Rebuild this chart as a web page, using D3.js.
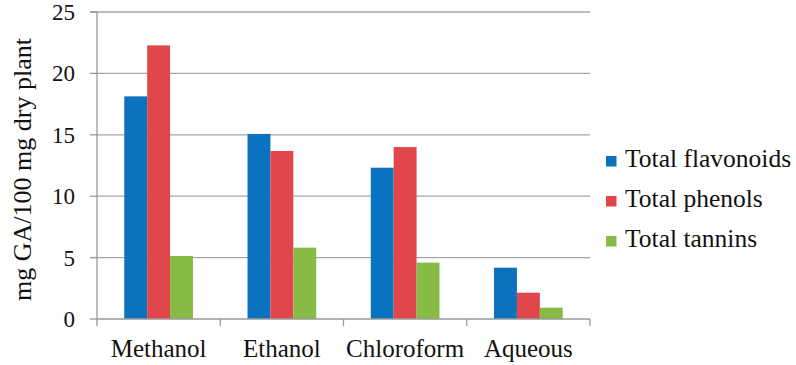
<!DOCTYPE html>
<html><head><meta charset="utf-8">
<script src="https://cdn.jsdelivr.net/npm/d3@7"></script>
<style>body{margin:0;background:#fff}#wrap{position:relative;width:796px;height:365px}svg{display:block;position:absolute;left:0;top:0}
.lg{position:absolute;font-family:"Liberation Serif";font-size:25.5px;color:#111;line-height:1;white-space:nowrap}</style>
</head><body>
<div id="wrap"><svg id="c" width="796" height="365"></svg></div>
<script>
const categories = ["Methanol", "Ethanol", "Chloroform", "Aqueous"];
const seriesNames = ["Total flavonoids", "Total phenols", "Total tannins"];
const flavonoids = [18.13, 15.07, 12.32, 4.18];
const phenols = [22.28, 13.68, 14.0, 2.14];
const tannins = [5.13, 5.81, 4.59, 0.92];
const yTicks = [0, 5, 10, 15, 20, 25];
const colors = ["#0a72be", "#e0464a", "#88bb46"];
const seriesValues = [flavonoids, phenols, tannins];

const svg = d3.select("#c");
const L = 97, R = 590, T = 12, B = 319;

const x = d3.scaleBand().domain(categories).range([L, R]).paddingInner(0).paddingOuter(0);
const sub = d3.scaleBand().domain(seriesNames).range([0, x.bandwidth()]).paddingInner(0).paddingOuter(1.19);
const y = d3.scaleLinear().domain([0, 25]).range([B, T]);

svg.append("g").selectAll("line").data(yTicks.filter(d => d > 0)).join("line")
  .attr("x1", L).attr("x2", R).attr("y1", d => y(d)).attr("y2", d => y(d))
  .attr("stroke", "#a6a6a6").attr("stroke-width", 1.3);

categories.forEach((c, i) => {
  svg.append("g").selectAll("rect").data(seriesNames).join("rect")
    .attr("x", s => x(c) + sub(s))
    .attr("width", sub.bandwidth())
    .attr("y", (s, j) => y(seriesValues[j][i]))
    .attr("height", (s, j) => B - y(seriesValues[j][i]))
    .attr("fill", (s, j) => colors[j]);
});

// y axis
svg.append("path").attr("d", `M${L - 7},${T}H${L}V${B}`).attr("fill", "none").attr("stroke", "#9a9a9a").attr("stroke-width", 1.3);
yTicks.forEach(t => {
  svg.append("line").attr("x1", L - 7).attr("x2", L).attr("y1", y(t)).attr("y2", y(t)).attr("stroke", "#9a9a9a").attr("stroke-width", 1.3);
  svg.append("text").attr("x", 75).attr("y", y(t) + 8).attr("text-anchor", "end")
    .attr("font-family", "Tinos").attr("font-size", 23).attr("fill", "#111").text(d3.format("d")(t));
});

// x axis
svg.append("line").attr("x1", L).attr("x2", R).attr("y1", B).attr("y2", B).attr("stroke", "#9a9a9a").attr("stroke-width", 1.3);
categories.map(c => x(c)).concat([R]).forEach(d => {
  svg.append("line").attr("x1", d).attr("x2", d).attr("y1", B).attr("y2", B + 7)
    .attr("stroke", "#9a9a9a").attr("stroke-width", 1.3);
});
categories.forEach(c => {
  svg.append("text").attr("x", x(c) + x.bandwidth() / 2).attr("y", 357).attr("text-anchor", "middle")
    .attr("font-family", "serif").attr("font-size", 25).attr("fill", "#111").text(c);
});

// y title
svg.append("text").attr("transform", `translate(31,${(T + B) / 2 + 4}) rotate(-90)`)
  .attr("text-anchor", "middle").attr("font-family", "Liberation Serif").attr("font-size", 26).attr("fill", "#111")
  .text("mg GA/100 mg dry plant");

// legend
seriesNames.forEach((s, i) => {
  svg.append("rect").attr("x", 606).attr("y", 156 + i * 40).attr("width", 10.5).attr("height", 10.5).attr("fill", colors[i]);
});
d3.select("#wrap").selectAll("div.lg").data(seriesNames).join("div").attr("class", "lg")
  .style("left", "625px").style("top", (d, i) => (146 + i * 40) + "px").text(d => d);
</script>
</body></html>
